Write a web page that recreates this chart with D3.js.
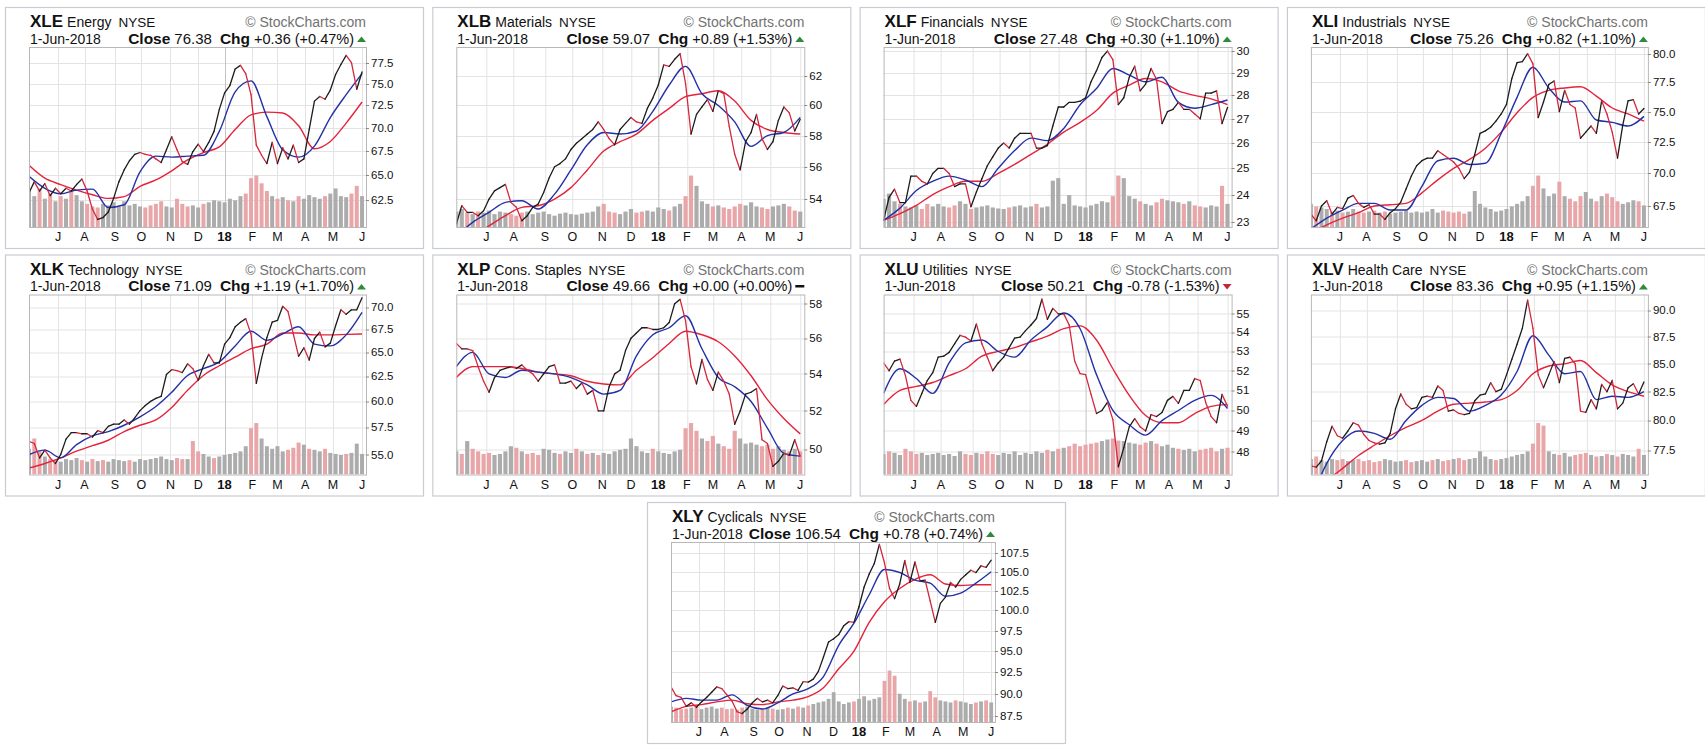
<!DOCTYPE html>
<html><head><meta charset="utf-8">
<script src="https://cdn.jsdelivr.net/npm/d3@7"></script>
<style>
body{margin:0;background:#fff;}
svg{display:block;font-family:"Liberation Sans",Arial,Helvetica,sans-serif;}
</style>
</head><body>
<svg id="c" width="1705" height="751"></svg>
<script>
// ---------- header data ----------
const tickers = ["XLE","XLB","XLF","XLI","XLK","XLP","XLU","XLV","XLY"];
const names = ["Energy","Materials","Financials","Industrials","Technology","Cons. Staples","Utilities","Health Care","Cyclicals"];
const closes = ["76.38","59.07","27.48","75.26","71.09","49.66","50.21","83.36","106.54"];
const changes = ["+0.36 (+0.47%)","+0.89 (+1.53%)","+0.30 (+1.10%)","+0.82 (+1.10%)","+1.19 (+1.70%)","+0.00 (+0.00%)","-0.78 (-1.53%)","+0.95 (+1.15%)","+0.78 (+0.74%)"];
const directions = ["up","up","up","up","up","flat","down","up","up"];
const dateLabel = "1-Jun-2018";

// ---------- time axis (trading-day index from 1-Jun-2017) ----------
const monthLabels = ["J","A","S","O","N","D","18","F","M","A","M","J"];
const monthStartDay = [22,42,65,85,107,128,148,169,188,209,230,252];
const priceStep = 4;   // price & volume sampled every 4 trading days
const maStep = 12;     // moving averages sampled every 12 trading days

// ---------- y axes ----------
const ticksXLE = [62.5,65,67.5,70,72.5,75,77.5];
const ticksXLB = [54,56,58,60,62];
const ticksXLF = [23,24,25,26,27,28,29,30];
const ticksXLI = [67.5,70,72.5,75,77.5,80];
const ticksXLK = [55,57.5,60,62.5,65,67.5,70];
const ticksXLP = [50,52,54,56,58];
const ticksXLU = [48,49,50,51,52,53,54,55];
const ticksXLV = [77.5,80,82.5,85,87.5,90];
const ticksXLY = [87.5,90,92.5,95,97.5,100,102.5,105,107.5];
const domXLE = [59.95,79.42];
const domXLB = [52.33,64.08];
const domXLF = [22.82,30.19];
const domXLI = [65.94,80.6];
const domXLK = [53.23,71.47];
const domXLP = [48.74,58.55];
const domXLU = [46.94,56.06];
const domXLV = [75.5,91.55];
const domXLY = [86.87,109.02];

// ---------- XLE ----------
const priceXLE = [63.24,64.33,63.42,64.15,62.96,63.69,63.14,63.69,63.42,64.06,64.61,63.42,61.63,60.66,60.84,61.37,62.69,64.33,65.54,66.49,67.16,67.35,67.16,67.06,66.68,66.30,67.64,69.02,67.64,66.39,66.11,67.45,68.23,67.45,68.42,69.61,72.05,73.93,74.78,76.73,77.17,76.18,73.72,68.13,67.06,66.20,68.42,66.20,67.84,66.68,68.13,66.30,66.68,69.81,72.98,73.51,73.19,74.25,76.08,77.28,78.39,77.5,74.35,76.38];
const maShortXLE = [64.89,63.69,63.14,63.51,63.60,61.81,62.07,65.35,66.97,66.87,66.97,67.06,69.61,74.04,75.32,71.23,67.64,66.87,68.03,71.13,73.72,76.18];
const maLongXLE = [66.01,64.70,64.06,63.51,63.05,62.69,62.87,63.87,64.52,65.45,66.58,67.35,67.94,69.81,71.43,71.74,71.64,70.22,67.74,68.52,70.52,72.88];
const volXLE = [70,60,75,55,65,50,60,55,70,62,50,45,40,38,45,42,48,40,50,42,45,40,38,42,45,50,40,38,55,45,40,42,38,45,48,52,50,48,55,52,60,65,95,100,85,70,60,55,58,52,50,60,55,62,58,55,60,65,75,60,58,65,80,60];

// ---------- XLB ----------
const priceXLB = [52.5,53.6,53.2,53.2,53.0,53.3,54.0,54.5,54.7,54.9,53.8,53.5,52.7,53.0,53.5,53.7,54.4,55.3,56.0,56.2,56.5,57.1,57.5,57.8,58.1,58.4,58.9,58.4,57.8,57.4,58.4,58.8,59.2,58.9,58.8,59.8,60.5,61.4,62.8,62.7,63.2,63.6,61.5,58.1,59.4,59.9,60.4,59.6,61.0,60.8,58.6,56.8,55.8,57.6,58.2,59.4,57.8,57.1,57.6,59.0,59.9,59.5,58.3,59.07];
const maShortXLB = [51.8,52.6,53.2,53.8,53.9,53.4,54.3,55.8,57.4,58.2,58.1,58.3,59.6,61.4,62.7,60.8,60.0,58.9,57.3,58.0,58.2,59.2];
const maLongXLB = [51.3,51.8,52.4,53.0,53.5,53.6,54.0,54.7,55.8,57.0,57.6,58.1,59.0,59.8,60.6,60.8,61.0,60.3,59.0,58.4,58.2,58.1];
const volXLB = [30,35,28,25,30,28,32,25,30,28,25,22,28,30,25,28,30,25,22,26,28,25,24,26,28,30,40,45,30,28,25,30,35,28,30,32,30,38,35,32,40,45,60,100,80,50,45,40,42,38,35,40,45,42,48,40,38,35,40,42,45,40,32,30];

// ---------- XLF ----------
const priceXLF = [23.06,23.9,24.2,23.7,23.7,24.7,24.7,24.5,24.4,24.8,25.0,25.0,24.8,24.3,24.4,24.4,23.55,24.1,24.6,25.1,25.45,25.8,26.0,25.8,26.2,26.4,26.4,26.4,25.8,25.8,25.9,26.7,27.5,27.5,27.7,27.7,27.75,27.9,28.6,29.1,29.7,30.0,29.6,27.6,27.9,28.8,29.3,28.2,28.5,29.2,28.7,26.8,27.3,27.4,27.7,27.4,27.4,27.2,27.0,28.1,28.1,28.2,26.8,27.48];
const maShortXLF = [23.06,23.5,24.15,24.5,24.7,24.55,24.3,25.0,25.7,26.2,26.1,26.6,27.6,28.3,29.2,28.9,28.6,28.8,27.7,27.45,27.6,27.8];
const maLongXLF = [23.06,23.3,23.6,24.0,24.3,24.5,24.5,24.8,25.15,25.55,25.95,26.45,26.85,27.35,28.1,28.45,28.75,28.6,28.2,28.0,27.85,27.6];
const volXLF = [55,65,50,45,40,38,42,35,45,40,45,40,38,42,50,45,35,38,40,42,38,36,35,38,40,42,38,40,45,38,40,90,95,45,62,42,40,38,42,45,50,48,60,100,95,60,55,50,45,42,48,55,52,50,48,45,50,42,40,38,42,40,80,45];

// ---------- XLI ----------
const priceXLI = [66.9,66.4,67.5,67.9,66.9,67.4,67.3,68.1,68.3,67.7,67.4,67.6,66.9,66.9,66.5,67.0,67.3,67.8,68.8,69.8,70.6,71.0,71.2,71.2,71.8,71.5,71.2,70.9,70.4,69.6,70.1,71.5,73.2,73.4,73.7,74.2,74.8,75.6,77.8,79.2,79.3,80.0,79.1,74.5,75.8,77.3,77.6,75.0,76.8,75.6,75.3,72.8,73.3,73.8,73.2,75.9,74.8,73.3,71.2,73.9,75.9,76.0,74.8,75.26];
const maShortXLI = [65.8,66.6,67.2,67.7,67.7,67.2,67.2,69.0,71.0,71.2,70.7,70.8,73.2,76.2,78.8,77.0,75.8,75.9,74.3,74.1,73.8,74.6];
const maLongXLI = [65.5,66.1,66.6,67.0,67.5,67.6,67.7,68.5,69.5,70.4,71.1,72.0,73.3,74.9,76.2,76.8,77.0,77.1,76.3,75.3,74.8,74.2];
const volXLI = [45,40,38,35,30,32,28,30,35,30,28,30,32,28,30,26,28,30,32,28,30,28,30,35,28,32,30,28,30,26,30,70,45,38,35,30,32,35,40,45,50,60,80,100,75,60,65,88,60,55,50,60,68,55,50,60,65,58,50,45,48,52,50,42];

// ---------- XLK ----------
const priceXLK = [56.2,56.0,54.7,55.4,54.7,54.2,55.0,56.4,57.0,57.0,56.9,56.9,56.6,57.2,57.0,57.6,57.8,57.8,58.2,57.8,58.4,59.1,59.6,60.0,60.3,60.5,62.7,63.2,63.1,62.9,63.8,63.3,62.1,63.6,64.8,63.9,63.9,65.9,66.6,67.8,68.3,68.7,67.0,61.8,64.4,66.6,68.3,68.5,70.1,69.5,67.0,64.6,65.5,64.2,66.5,67.2,65.6,66.0,67.9,69.7,69.2,69.7,69.7,71.09];
const maShortXLK = [55.0,55.4,54.7,55.9,56.7,57.1,57.7,58.5,59.5,60.9,62.6,63.3,64.0,65.7,67.3,66.3,67.0,67.8,65.9,65.7,66.9,69.4];
const maLongXLK = [53.8,54.2,54.7,55.3,55.8,56.3,57.1,57.7,58.2,59.4,61.1,62.6,63.6,64.5,65.4,65.9,67.1,67.1,66.9,66.9,66.95,67.0];
const volXLK = [50,70,45,35,30,28,25,30,28,32,28,25,30,26,28,25,30,28,26,28,25,30,28,30,32,35,30,28,32,30,30,65,45,40,35,32,35,38,40,42,45,55,90,100,70,55,50,55,45,48,52,62,58,50,48,45,50,42,40,38,40,42,60,40];

// ---------- XLP ----------
const priceXLP = [55.7,55.4,55.4,55.3,54.4,53.6,53.0,53.8,54.2,54.3,54.4,54.3,54.5,54.2,54.0,53.6,54.0,54.4,54.5,53.5,53.5,53.6,53.2,53.5,52.9,53.1,52.0,52.0,53.3,54.0,54.2,55.3,56.0,56.3,56.6,56.6,56.5,56.5,56.6,56.9,58.0,58.26,57.0,54.4,53.45,54.8,53.7,53.1,54.1,53.6,52.9,51.3,52.0,52.9,53.0,53.2,50.5,50.3,49.15,49.4,49.8,49.7,50.5,49.66];
const maShortXLP = [54.4,55.2,54.0,53.8,54.2,54.1,54.0,53.8,53.4,52.9,53.1,55.0,56.2,56.6,57.3,55.4,53.8,53.3,52.5,51.1,49.8,49.66];
const maLongXLP = [53.8,54.4,54.4,54.4,54.3,54.1,54.0,53.9,53.6,53.45,53.4,54.2,54.9,55.7,56.4,56.2,55.8,55.0,53.9,52.6,51.6,50.8];
const volXLP = [45,40,65,50,45,40,42,38,40,45,55,52,45,40,42,38,50,48,42,40,45,42,50,45,40,42,38,42,40,45,48,50,70,55,45,42,50,45,42,40,45,48,90,100,85,70,65,75,60,55,50,85,70,60,62,58,55,58,50,55,48,45,50,45];

// ---------- XLU ----------
const priceXLU = [52.4,52.0,52.5,52.6,51.75,50.5,50.2,50.85,51.5,51.9,52.7,52.75,52.95,53.4,53.85,53.75,53.55,54.45,53.4,52.7,52.0,52.4,52.7,53.2,53.7,53.75,54.1,54.4,54.75,55.8,54.7,55.3,55.0,55.0,54.4,52.5,51.85,51.8,50.8,49.85,50.0,50.4,49.55,47.3,48.2,49.2,49.6,49.2,49.0,49.8,49.7,49.9,50.5,50.7,50.35,51.0,51.0,51.6,51.5,50.4,49.7,49.4,50.8,50.21];
const maShortXLU = [50.85,52.1,51.6,50.85,52.4,53.45,53.6,53.0,52.7,53.6,54.3,55.05,54.2,51.8,50.0,49.3,48.8,49.5,50.0,50.5,50.75,50.1];
const maLongXLU = [50.3,51.0,51.2,51.4,51.75,52.1,52.75,53.0,53.2,53.5,53.8,54.2,54.35,53.6,52.1,50.75,49.75,49.4,49.4,49.85,50.2,50.3];
const volXLU = [40,45,42,38,50,45,40,42,38,40,42,38,40,36,45,40,38,42,40,45,40,38,42,40,45,38,42,40,45,42,48,45,50,52,55,60,55,58,60,62,65,68,70,66,65,62,60,58,62,65,60,55,58,52,50,48,50,45,48,50,52,45,50,52];

// ---------- XLV ----------
const priceXLV = [76.2,76.1,76.6,78.2,79.5,78.7,78.5,79.1,79.8,79.6,78.8,78.3,78.1,78.0,78.1,78.9,81.0,82.3,81.4,81.0,81.1,82.0,82.1,82.0,83.0,82.6,80.8,80.9,80.6,80.5,80.6,81.7,82.2,82.3,83.3,82.5,82.7,84.0,85.4,86.8,88.3,91.0,88.3,84.0,82.85,84.0,85.2,83.3,85.5,85.6,85.0,80.8,80.7,81.8,81.0,83.15,82.5,83.5,81.0,81.5,82.85,83.2,82.3,83.36];
const maShortXLV = [73.5,76.4,78.3,79.1,78.9,78.4,80.0,81.3,82.0,81.9,80.8,81.3,82.2,84.3,87.6,85.8,84.1,84.3,81.8,82.1,82.0,82.5];
const maLongXLV = [73.8,75.0,76.0,77.05,77.9,78.7,79.4,80.0,80.8,81.4,81.5,81.6,81.8,82.6,84.1,84.8,85.0,85.3,84.2,83.1,82.5,82.1];
const volXLV = [30,35,28,25,30,28,30,26,28,30,26,28,24,26,30,28,25,26,28,24,26,28,25,28,30,26,28,30,32,28,30,32,45,35,30,28,30,32,35,38,40,45,60,100,95,45,40,38,42,35,38,40,42,38,35,36,40,38,35,40,38,35,50,38];

// ---------- XLY ----------
const priceXLY = [90.8,89.8,89.6,88.6,89.0,88.5,89.1,89.6,90.2,90.8,90.6,89.9,89.2,88.0,87.8,88.3,89.0,89.5,89.1,89.3,89.0,89.8,90.9,90.6,90.7,90.4,91.4,91.35,91.7,92.6,94.3,96.1,96.5,97.0,98.1,98.6,98.5,100.5,103.0,104.7,106.1,108.7,106.2,102.8,101.5,103.4,106.5,103.6,106.3,103.8,103.9,101.2,98.5,100.9,101.7,103.6,103.0,104.0,104.6,105.2,104.9,105.8,105.6,106.54];
const maShortXLY = [89.1,89.5,89.3,89.3,89.9,88.7,88.3,89.0,90.0,90.6,92.0,95.7,98.4,102.0,105.3,104.9,103.9,103.5,101.8,102.2,103.5,105.0];
const maLongXLY = [88.0,88.6,88.8,89.1,89.3,88.9,88.8,89.1,89.3,89.7,90.7,92.9,95.0,98.5,101.1,102.8,104.0,104.6,103.4,103.2,103.3,103.3];
const volXLY = [30,28,25,26,28,30,25,28,30,26,28,25,26,24,28,30,26,24,25,28,26,24,25,28,26,30,28,32,35,38,40,45,58,40,35,38,40,45,50,42,45,48,80,100,90,55,45,40,42,38,40,60,48,42,40,38,42,40,38,35,38,40,42,38];

// ---------- assemble ----------
const prices = [priceXLE,priceXLB,priceXLF,priceXLI,priceXLK,priceXLP,priceXLU,priceXLV,priceXLY];
const maShort = [maShortXLE,maShortXLB,maShortXLF,maShortXLI,maShortXLK,maShortXLP,maShortXLU,maShortXLV,maShortXLY];
const maLong = [maLongXLE,maLongXLB,maLongXLF,maLongXLI,maLongXLK,maLongXLP,maLongXLU,maLongXLV,maLongXLY];
const vols = [volXLE,volXLB,volXLF,volXLI,volXLK,volXLP,volXLU,volXLV,volXLY];
const ticks = [ticksXLE,ticksXLB,ticksXLF,ticksXLI,ticksXLK,ticksXLP,ticksXLU,ticksXLV,ticksXLY];
const doms = [domXLE,domXLB,domXLF,domXLI,domXLK,domXLP,domXLU,domXLV,domXLY];

// ---------- layout ----------
const PW = 418, PH = 241, PL = 24, PT = 40, PB = 220;
const plotRightByLabelLen = {2: 372, 3: 366, 4: 361, 5: 348};
const C = {
  border: "#c9ccd3", frame: "#b8b8b8", grid: "#e3e3e3", yearGrid: "#c4c4c4",
  up: "#1c1c1c", down: "#d3273b", maShort: "#2431a6", maLong: "#e3243c",
  volUp: "#acacac", volDown: "#e9a6a9", text: "#111", brand: "#727272",
  triUp: "#2f8a3c", triDown: "#c0283a"
};
const svg = d3.select("#c");

tickers.forEach((tk, k) => {
  const left = k < 8 ? 5 + (k % 4) * 427.3 : 647;
  const top = k < 8 ? 7 + Math.floor(k / 4) * 247.5 : 502;
  const g = svg.append("g").attr("transform", `translate(${left},${top})`);
  g.append("rect").attr("x", 0.5).attr("y", 0.5).attr("width", PW).attr("height", PH)
    .attr("fill", "#fff").attr("stroke", C.border).attr("stroke-width", 1.2);

  const allInt = ticks[k].every(t => Number.isInteger(t));
  const fmt = allInt ? d3.format("d") : d3.format(".1f");
  const maxLen = d3.max(ticks[k], t => fmt(t).length);
  const PR = plotRightByLabelLen[maxLen];

  const x = d3.scaleLinear().domain([0, 255]).range([PL, PR]);
  const y = d3.scaleLog().domain(doms[k]).range([PB, PT]);
  const yv = d3.scaleLinear().domain([0, 350]).range([PB, PT]);

  const clipId = "clip" + k;
  g.append("clipPath").attr("id", clipId).append("rect")
    .attr("x", PL).attr("y", PT).attr("width", PR - PL).attr("height", PB - PT);

  // grid
  g.append("g").selectAll("line").data(ticks[k]).join("line")
    .attr("x1", PL).attr("x2", PR).attr("y1", d => Math.round(y(d)) + 0.5).attr("y2", d => Math.round(y(d)) + 0.5)
    .attr("stroke", C.grid).attr("stroke-width", 1);
  g.append("g").selectAll("line").data(monthStartDay).join("line")
    .attr("x1", d => Math.round(x(d)) + 0.5).attr("x2", d => Math.round(x(d)) + 0.5)
    .attr("y1", PT).attr("y2", PB)
    .attr("stroke", (d, i) => monthLabels[i] === "18" ? C.yearGrid : C.grid).attr("stroke-width", 1);

  const plot = g.append("g").attr("clip-path", `url(#${clipId})`);

  // volume
  const pr = prices[k];
  const volData = vols[k].map((v, j) => ({ d: j * priceStep, v, down: j > 0 && pr[j] < pr[j - 1] }));
  const bw = (x(priceStep) - x(0)) - 1.3;
  plot.append("g").selectAll("rect").data(volData).join("rect")
    .attr("x", d => x(d.d) - bw / 2).attr("y", d => yv(d.v))
    .attr("width", bw).attr("height", d => PB - yv(d.v))
    .attr("fill", d => d.down ? C.volDown : C.volUp);

  // moving averages
  const maLine = d3.line().x(d => x(d.d)).y(d => y(d.v)).curve(d3.curveMonotoneX);
  const mkMA = arr => arr.map((v, j) => ({ d: Math.min(j * maStep, 252), v }));
  plot.append("path").datum(mkMA(maLong[k])).attr("d", maLine)
    .attr("fill", "none").attr("stroke", C.maLong).attr("stroke-width", 1.4);
  plot.append("path").datum(mkMA(maShort[k])).attr("d", maLine)
    .attr("fill", "none").attr("stroke", C.maShort).attr("stroke-width", 1.4);

  // price (black up / red down)
  const pts = pr.map((v, j) => ({ d: j * priceStep, v }));
  const segLine = d3.line().x(d => x(d.d)).y(d => y(d.v));
  plot.append("g").selectAll("path").data(d3.pairs(pts)).join("path")
    .attr("d", d => segLine(d))
    .attr("fill", "none").attr("stroke-width", 1.3).attr("stroke-linecap", "round")
    .attr("stroke", d => d[1].v >= d[0].v ? C.up : C.down);

  // frame
  g.append("rect").attr("x", PL + 0.5).attr("y", PT + 0.5).attr("width", PR - PL).attr("height", PB - PT)
    .attr("fill", "none").attr("stroke", C.frame);

  // y axis ticks + labels
  g.append("g").selectAll("line").data(ticks[k]).join("line")
    .attr("x1", PR).attr("x2", PR + 3).attr("y1", d => Math.round(y(d)) + 0.5).attr("y2", d => Math.round(y(d)) + 0.5)
    .attr("stroke", "#888");
  g.append("g").selectAll("text").data(ticks[k]).join("text")
    .attr("x", PR + 5).attr("y", d => y(d) + 4).attr("font-size", 11.5).attr("fill", C.text)
    .text(d => fmt(d));

  // x labels
  g.append("g").selectAll("text").data(monthStartDay).join("text")
    .attr("x", d => x(d)).attr("y", 234).attr("text-anchor", "middle")
    .attr("font-size", (d, i) => monthLabels[i] === "18" ? 13 : 12.5)
    .attr("font-weight", (d, i) => monthLabels[i] === "18" ? "bold" : "normal")
    .attr("fill", C.text).text((d, i) => monthLabels[i]);

  // header line 1
  const t1 = g.append("text").attr("x", PL + 1).attr("y", 20).attr("fill", C.text);
  t1.append("tspan").attr("font-size", 17).attr("font-weight", "bold").text(tk);
  t1.append("tspan").attr("font-size", 14).attr("dx", 4).text(names[k]);
  t1.append("tspan").attr("font-size", 13.5).attr("dx", 7).text("NYSE");
  g.append("text").attr("x", PR).attr("y", 20).attr("text-anchor", "end")
    .attr("font-size", 14).attr("fill", C.brand).text("\u00A9 StockCharts.com");

  // header line 2
  g.append("text").attr("x", PL + 1).attr("y", 36.5).attr("font-size", 14).attr("fill", C.text).text(dateLabel);
  const t2 = g.append("text").attr("x", PR - 12).attr("y", 36.5).attr("text-anchor", "end")
    .attr("font-size", 14.5).attr("fill", C.text);
  t2.append("tspan").attr("font-weight", "bold").attr("font-size", 15.5).text("Close");
  t2.append("tspan").attr("dx", 4).attr("font-size", 15).text(closes[k]);
  t2.append("tspan").attr("dx", 8).attr("font-weight", "bold").attr("font-size", 15.5).text("Chg");
  t2.append("tspan").attr("dx", 4).text(changes[k]);

  const dir = directions[k];
  if (dir === "up") {
    g.append("path").attr("d", `M${PR - 9},35 L${PR},35 L${PR - 4.5},29.5 Z`).attr("fill", C.triUp);
  } else if (dir === "down") {
    g.append("path").attr("d", `M${PR - 9},29.5 L${PR},29.5 L${PR - 4.5},35 Z`).attr("fill", C.triDown);
  } else {
    g.append("rect").attr("x", PR - 9).attr("y", 30.5).attr("width", 9).attr("height", 2.5).attr("fill", "#111");
  }
});
</script>
</body></html>
